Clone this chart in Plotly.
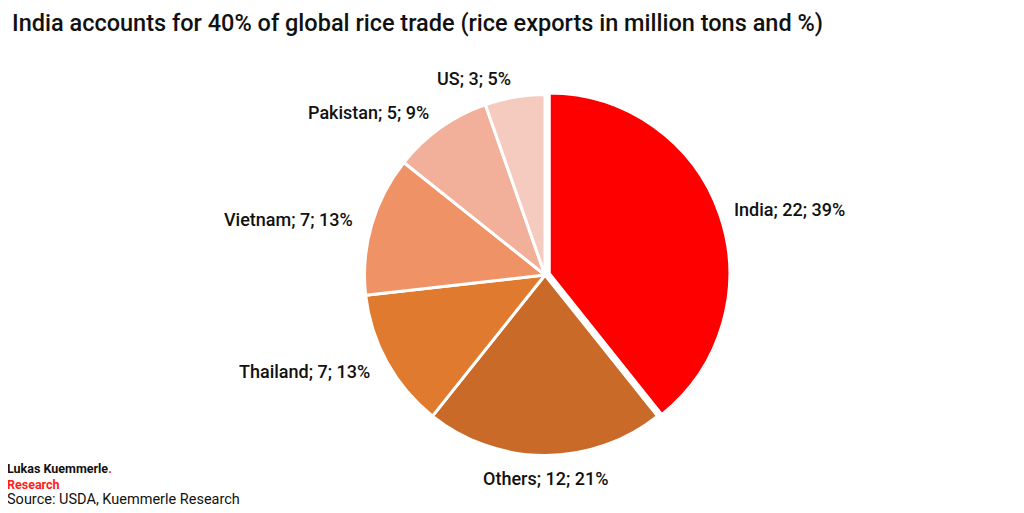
import math
import plotly.graph_objects as go

labels = ["India", "Others", "Thailand", "Vietnam", "Pakistan", "US"]
values = [22, 12, 7, 7, 5, 3]
colors = ["#FF0000", "#C96A28", "#E07A2F", "#EF9366", "#F2B09A", "#F5CBBF"]
pulls = [0.025, 0, 0, 0, 0, 0]

H = 513.0
W = 1024.0
OFF = 8.0  # page body margin offset

def py(pix):
    return (H - (pix - OFF)) / H

def px(pix):
    return (pix - OFF) / W

# pie geometry in page pixels
CX, CY, R = 545.0, 275.0, 180.0
LABEL_R = 199.0
LABEL_R_VERT = 192.0

fig = go.Figure(go.Pie(
    labels=labels, values=values, sort=False, direction="clockwise", rotation=0,
    marker=dict(colors=colors, line=dict(color="white", width=3)),
    pull=pulls,
    textinfo="none",
    hoverinfo="label+value+percent",
    showlegend=False,
    domain=dict(x=[px(CX - 185), px(CX + 185)], y=[py(CY + 185), py(CY - 185)]),
))

# data labels placed around the pie from the data's angles
total = sum(values)
cum = 0.0
for lab, val in zip(labels, values):
    mid = (cum + val / 2.0) / total * 2 * math.pi
    cum += val
    dx, dy = math.sin(mid), -math.cos(mid)
    if abs(dx) > 0.15:
        x = CX + dx * LABEL_R
        y = CY + dy * LABEL_R
        xa = "left" if dx > 0 else "right"
        ya = "middle"
    else:
        x = CX + dx * LABEL_R_VERT
        y = CY + dy * LABEL_R_VERT
        xa = "center"
        ya = "top" if dy > 0 else "bottom"
    pct = int(math.floor(val / total * 100 + 0.5))
    fig.add_annotation(text=f"{lab}; {val}; {pct}%", xref="paper", yref="paper",
                       x=px(x), y=py(y), xanchor=xa, yanchor=ya, showarrow=False,
                       borderpad=0,
                       font=dict(family="Roboto", size=18, color="#111111", weight=500))

fig.update_layout(
    width=1024, height=513,
    margin=dict(l=0, r=0, t=0, b=0),
    paper_bgcolor="white", plot_bgcolor="white",
    title=dict(text="India accounts for 40% of global rice trade (rice exports in million tons and %)",
               x=px(12), xanchor="left", y=py(23), yanchor="middle",
               font=dict(family="Roboto", size=23.5, color="#111111", weight=500)),
)
fig.add_annotation(
    text=("<b><span style='font-size:12.5px'>Lukas Kuemmerle<span style='color:#FF2020'>.</span></span></b><br>"
          "<b><span style='font-size:12.5px;color:#FF2020'>Research</span></b><br>"
          "<span style='font-size:14.5px'>Source: USDA, Kuemmerle Research</span>"),
    xref="paper", yref="paper", x=px(6), y=py(484), xanchor="left", yanchor="middle",
    align="left", showarrow=False, borderpad=0,
    font=dict(family="Roboto", size=12, color="#111111"))

fig.write_html("out.html")
